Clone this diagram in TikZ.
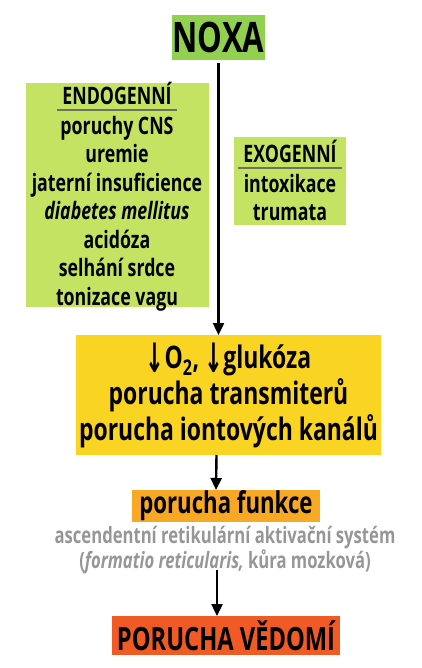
\documentclass[tikz,border=0pt]{standalone}
\usepackage{fontspec}
\setmainfont{Open Sans}[FakeStretch=0.74]
\newfontfamily\arrowfont{DejaVu Sans}
\usetikzlibrary{positioning,arrows.meta}
\definecolor{noxagreen}{RGB}{146,208,80}
\definecolor{palegreen}{RGB}{196,227,98}
\definecolor{hypoyellow}{RGB}{250,212,35}
\definecolor{funcorange}{RGB}{247,168,36}
\definecolor{endred}{RGB}{240,90,36}
\definecolor{notegray}{RGB}{150,150,150}
\definecolor{rulegray}{RGB}{110,112,96}
\tikzset{box node/.style={inner sep=0pt,outer sep=0pt},
         list text/.style={inner sep=0pt,align=center,font=\bfseries\fontsize{24}{28.5}\selectfont},
         head rule/.style={rulegray,line width=2pt},
         flow/.style={line width=2.4pt,-{Triangle[width=11pt,length=12pt]}},
            }
\newcommand\down{{\arrowfont\fontsize{30}{30}\selectfont\raisebox{-4pt}{\scalebox{0.75}[1.35]{↓}}}}

\begin{document}
\begin{tikzpicture}[x=1pt,y=-1pt]
\useasboundingbox (0,0) rectangle (421,668);
 \node[box node,fill=noxagreen,minimum width=93,minimum height=45] (nox) at (218.5,37.5) {};
 \node[list text,font=\bfseries\fontsize{42}{42}\selectfont] at (nox.center) {NOXA};
 \node[box node,fill=palegreen,minimum width=183,minimum height=224] (end) at (117,195) {};
 \node[list text,anchor=base] (enh) at (117,105) {ENDOGENNÍ};
 \node[list text,anchor=north] (enl) at (117,116) {poruchy CNS\\ uremie\\ jaterní insuficience\\ {\itshape diabetes mellitus}\\ acidóza\\ selhání srdce\\ tonizace vagu};
 \node[box node,fill=palegreen,minimum width=112,minimum height=88] (exo) at (290,181) {};
 \node[list text,anchor=base] (exh) at (290,163) {EXOGENNÍ};
 \node[list text,anchor=north] (exl) at (290,174) {intoxikace\\ trumata};
 \node[box node,fill=hypoyellow,minimum width=305,minimum height=120] (hyp) at (228.5,395) {};
 \node[list text,font=\bfseries\fontsize{31}{36}\selectfont] at (hyp.center) {\down O\textsubscript{2},\,\down glukóza\\ porucha transmiterů\\ porucha iontových kanálů};
 \node[box node,fill=funcorange,minimum width=188,minimum height=32] (fun) at (226,506) {};
 \node[list text,font=\bfseries\fontsize{30}{30}\selectfont] at (fun.center) {porucha funkce};
 \node[list text,anchor=north,text=notegray,font=\bfseries\fontsize{22.5}{25}\selectfont] (ars) at (225,526) {ascendentní retikulární aktivační systém\\ ({\itshape formatio reticularis,} kůra mozková)};
 \node[box node,fill=endred,minimum width=228,minimum height=39] (ved) at (226,635.5) {};
 \node[list text,font=\bfseries\fontsize{32}{32}\selectfont] at (ved.center) {PORUCHA VĚDOMÍ};
    \path[draw,head rule]
        ([xshift=-5pt,yshift=-5pt]enh.base west) -- ([xshift=5pt,yshift=-5pt]enh.base east);
    \path[draw,head rule]
        ([xshift=-5pt,yshift=-5pt]exh.base west) -- ([xshift=5pt,yshift=-5pt]exh.base east);
    \path[draw,flow]
        ([yshift=-3pt]nox.south) -- (nox.south |- hyp.north);
    \path[draw,flow]
        ([xshift=-12pt]hyp.south) -- ([xshift=-10pt]fun.north);
    \path[draw,flow]
        ([xshift=-9pt,yshift=4pt]fun.south |- ars.south) -- ([xshift=-9pt]ved.north);
\end{tikzpicture}
\end{document}
